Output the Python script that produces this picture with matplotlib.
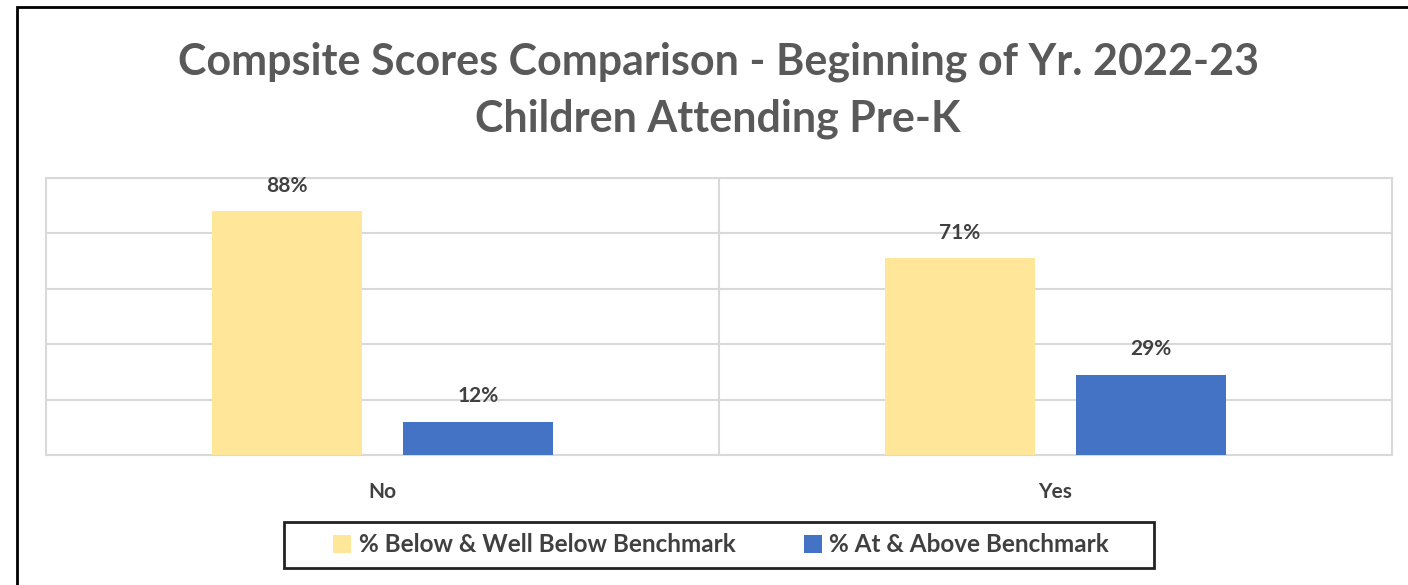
import numpy as np
import matplotlib
matplotlib.use("Agg")
import matplotlib.pyplot as plt
from matplotlib.patches import Rectangle

# Data
categories = ["No", "Yes"]
below = [0.88, 0.71]
above = [0.12, 0.29]
series_names = ["% Below & Well Below Benchmark", "% At & Above Benchmark"]

yellow = "#FFE699"
blue = "#4472C4"
grid_c = "#D9D9D9"
txt = "#404040"

plt.rcParams["font.family"] = ["Lato", "DejaVu Sans"]

W, H = 1408, 585
fig = plt.figure(figsize=(W / 100, H / 100), dpi=100)
ax = fig.add_axes([46 / W, 1 - 455 / H, (1392 - 46) / W, (455 - 178) / H])

x = np.arange(len(categories))
w = 0.223
off = 0.142
b1 = ax.bar(x - off, below, w, color=yellow, label=series_names[0], zorder=3)
b2 = ax.bar(x + off, above, w, color=blue, label=series_names[1], zorder=3)

for bars in (b1, b2):
    for r in bars:
        ax.annotate(f"{r.get_height():.0%}", (r.get_x() + r.get_width() / 2, r.get_height()),
                    xytext=(0, 11), textcoords="offset points", ha="center", va="bottom",
                    fontsize=15, fontweight="bold", color=txt)

ax.set_xlim(-0.5, 1.5)
ax.set_ylim(0, 1.0)
ax.set_yticks(np.arange(0, 1.01, 0.2))
ax.yaxis.grid(True, color=grid_c, linewidth=1.5, zorder=0)
ax.tick_params(axis="y", left=False, labelleft=False)
ax.tick_params(axis="x", bottom=False, labelsize=15, colors=txt, pad=16)
ax.set_xticks(x)
ax.set_xticklabels(categories, fontweight="bold")
ax.axvline(0.5, color=grid_c, linewidth=1.5, zorder=0)
for s in ax.spines.values():
    s.set_color(grid_c)
    s.set_linewidth(1.5)

fig.suptitle("Compsite Scores Comparison - Beginning of Yr. 2022-23\nChildren Attending Pre-K",
             x=0.51, y=0.929, fontsize=31, fontweight="bold", color="#595959", linespacing=1.5)

leg = fig.legend(loc="center", bbox_to_anchor=(721 / W, 1 - 545 / H), ncol=2,
                 frameon=False, prop={"size": 17.5, "weight": "bold"},
                 handlelength=0.75, handleheight=0.75,
                 columnspacing=2.8, handletextpad=0.3, borderaxespad=0)
for t in leg.get_texts():
    t.set_color(txt)

# legend box is wider than its contents in the reference, so draw it separately
fig.patches.append(Rectangle((284 / W, 1 - 568 / H), (1154 - 284) / W, (568 - 522) / H,
                             transform=fig.transFigure, fill=False, edgecolor="#222222", linewidth=2))

# outer chart border (only left and top are visible in the reference)
fig.patches.append(Rectangle((17 / W, -0.1), 1.2, 1 - 7 / H + 0.1, transform=fig.transFigure,
                             fill=False, edgecolor="black", linewidth=2))

fig.savefig("out.png", dpi=100)
